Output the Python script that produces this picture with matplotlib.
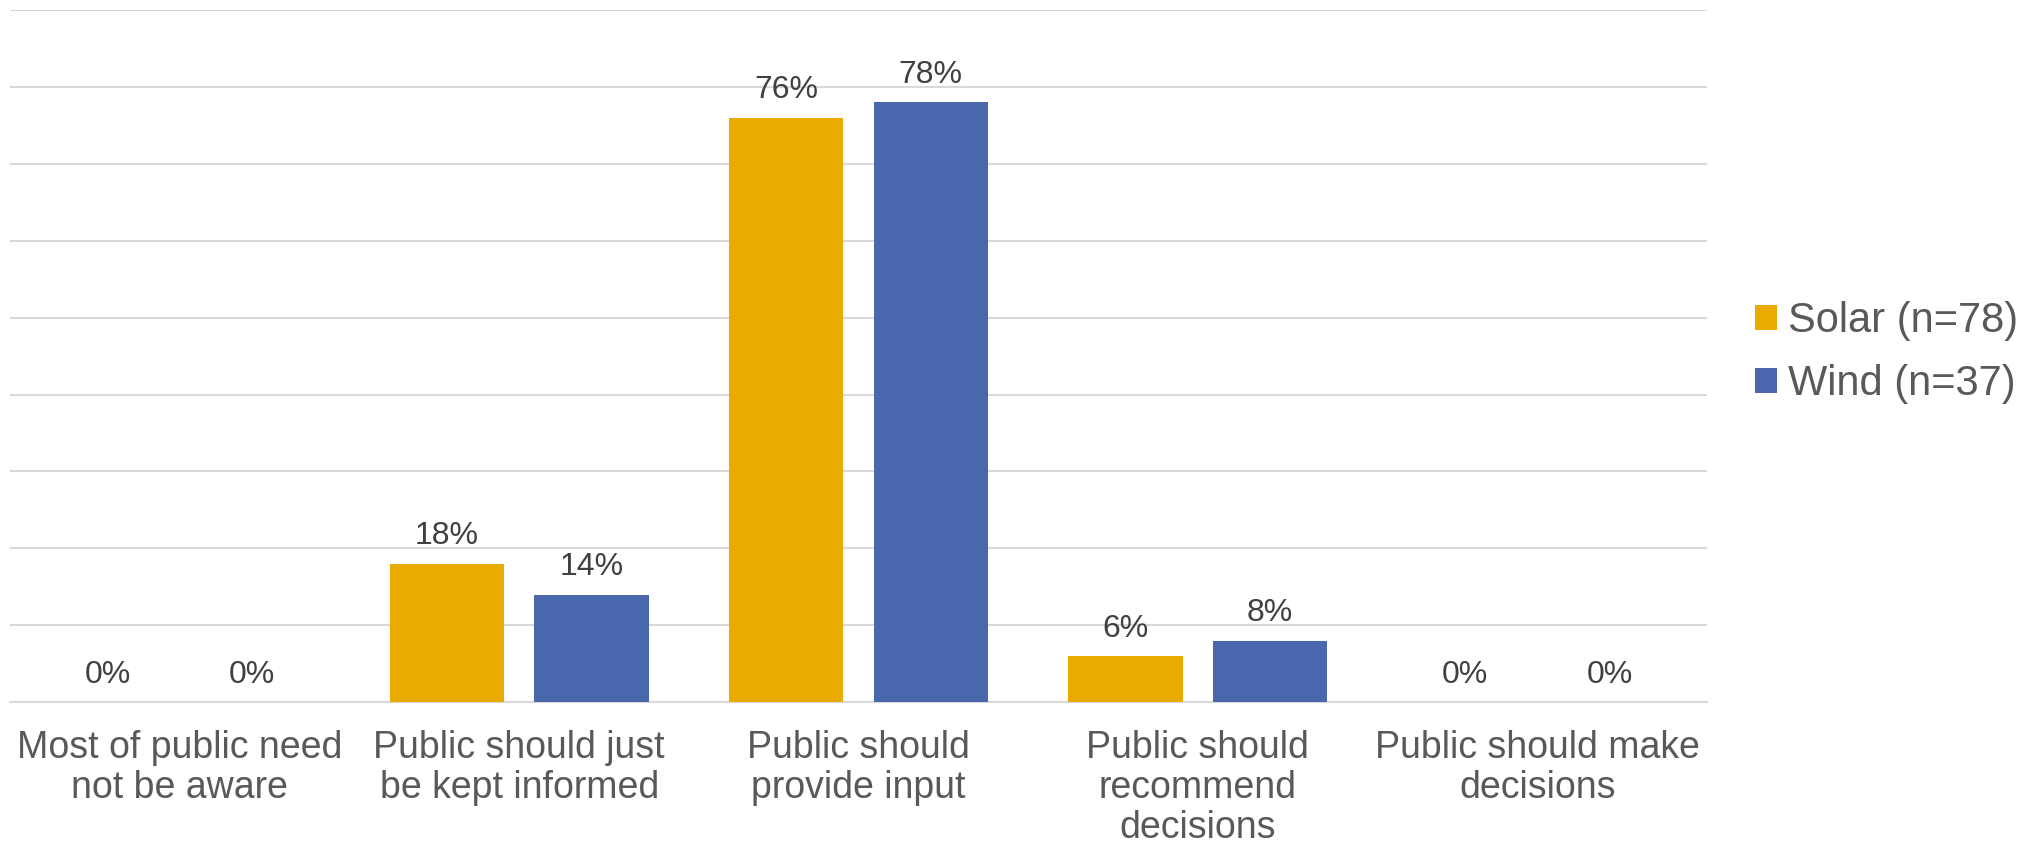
import matplotlib.pyplot as plt
import numpy as np

plt.rcParams['font.family'] = ['Liberation Sans', 'DejaVu Sans']

categories = ["Most of public need\nnot be aware",
              "Public should just\nbe kept informed",
              "Public should\nprovide input",
              "Public should\nrecommend\ndecisions",
              "Public should make\ndecisions"]
solar = [0, 18, 76, 6, 0]
wind = [0, 14, 78, 8, 0]
series_names = ["Solar (n=78)", "Wind (n=37)"]

solar_color = '#E9AB00'
wind_color = '#4A67AD'

fig = plt.figure(figsize=(20.38, 8.47), dpi=100)
ax = fig.add_axes([0.005, 0.171, 0.8325, 0.817])

x = np.arange(len(categories))
w = 0.337
b1 = ax.bar(x - 0.213, solar, w, color=solar_color, label=series_names[0], zorder=3)
b2 = ax.bar(x + 0.213, wind, w, color=wind_color, label=series_names[1], zorder=3)

for bars in (b1, b2):
    ax.bar_label(bars, labels=[f"{v:g}%" for v in bars.datavalues],
                 padding=9, fontsize=23, color='#404040')

ax.set_xlim(-0.5, len(categories) - 0.5)
ax.set_ylim(0, 90)
ax.set_yticks(np.arange(0, 91, 10))
ax.yaxis.grid(True, color='#D9D9D9', linewidth=1.5, zorder=0)
ax.set_yticklabels([])
ax.tick_params(axis='y', length=0)

ax.set_xticks(x)
ax.set_xticklabels(categories, fontsize=27, color='#595959', linespacing=1.15)
ax.tick_params(axis='x', length=0, pad=20)

for s in ['top', 'right', 'left']:
    ax.spines[s].set_visible(False)
ax.spines['bottom'].set_color('#D9D9D9')
ax.spines['bottom'].set_linewidth(1.5)

leg = ax.legend(loc='center left', bbox_to_anchor=(1.006, 0.505), frameon=False,
                fontsize=30, handlelength=0.55, handleheight=0.55,
                handletextpad=0.25, labelspacing=0.55, labelcolor='#595959')

fig.savefig('out.png', dpi=100)
